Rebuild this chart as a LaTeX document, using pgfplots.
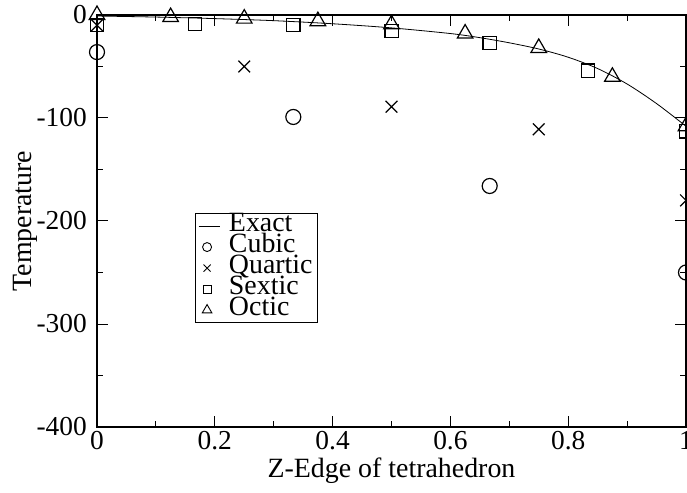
\documentclass[border=0pt]{standalone}
\usepackage{fontspec}
\setmainfont{Liberation Serif}
\usepackage{pgfplots}
\pgfplotsset{compat=1.18}
\begin{document}
\begin{tikzpicture}
\begin{axis}[
    at={(0,0)}, anchor=south west,
    scale only axis,
    width=589bp, height=412bp,
    xmin=0, xmax=1, ymin=-400, ymax=0,
    xtick={0,0.2,0.4,0.6,0.8,1},
    xticklabels={0,0.2,0.4,0.6,0.8,1},
    ytick={-400,-300,-200,-100,0},
    yticklabels={-400,-300,-200,-100,0},
    minor x tick num=1,
    minor y tick num=1,
    tick align=inside,
    major tick length=11bp,
    minor tick length=6bp,
    every tick/.style={black, line width=1bp},
    axis line style={line width=1.2bp},
    tick label style={font=\fontsize{27.5}{28}\selectfont},
    xticklabel style={anchor=base, yshift=-22bp},
    yticklabel style={anchor=east, inner sep=0pt, xshift=-10bp},
    xlabel={Z-Edge of tetrahedron},
    ylabel={Temperature},
    every axis x label/.style={at={(axis description cs:0.5,-0.123)}, anchor=base, font=\fontsize{28}{28}\selectfont},
    every axis y label/.style={at={(axis description cs:-0.122,0.5)}, anchor=center, rotate=90, font=\fontsize{28}{28}\selectfont},
    clip=false,
    legend cell align=left,
    legend style={at={(axis description cs:0.166,0.519)}, anchor=north west,
        draw=black, line width=0.8bp, font=\fontsize{28}{28}\selectfont,
        inner xsep=3bp, inner ysep=2bp, row sep=0bp, column sep=7bp,
        nodes={text height=14bp, text depth=3bp, inner ysep=2bp, inner xsep=2bp}},
    ]
% Exact
\addplot[black, line width=0.8bp, smooth,
    legend image code/.code={\draw[black, line width=0.8bp] (0bp,0bp) -- (21bp,0bp);}]
    coordinates {
    (0,-1) (0.1,-2) (0.2,-3.5) (0.3,-5.5) (0.4,-8.5) (0.5,-12.5)
    (0.6,-18) (0.65,-22) (0.7,-27) (0.75,-33) (0.8,-41) (0.85,-52)
    (0.9,-67) (0.95,-86) (1.0,-108)};
\addlegendentry{Exact}
% Cubic
\addplot[only marks, mark=o, mark size=7.5bp, mark options={black, line width=1.2bp},
    legend image post style={mark size=4.5bp, mark options={line width=0.9bp}}]
    coordinates {(0,-36) (0.3333,-99) (0.6667,-166) (1,-250)};
\addlegendentry{Cubic}
% Quartic
\addplot[only marks, mark=x, mark size=8.3bp, mark options={black, line width=1.2bp},
    legend image post style={mark size=5bp, mark options={line width=0.9bp}}]
    coordinates {(0,-10) (0.25,-50) (0.5,-89) (0.75,-111) (1,-180)};
\addlegendentry{Quartic}
% Sextic
\addplot[only marks, mark=square, mark size=6.6bp, mark options={black, line width=1.2bp},
    legend image post style={mark size=4bp, mark options={line width=0.9bp}}]
    coordinates {(0,-10) (0.1667,-9) (0.3333,-10) (0.5,-15.5) (0.6667,-27) (0.8333,-54) (1,-113)};
\addlegendentry{Sextic}
% Octic
\addplot[only marks, mark=triangle, mark size=9bp, mark options={black, line width=1.2bp},
    legend image post style={mark size=5.5bp, mark options={line width=0.9bp}}]
    coordinates {(0,0) (0.125,-2) (0.25,-3.5) (0.375,-6) (0.5,-9) (0.625,-18) (0.75,-32) (0.875,-60) (1,-108)};
\addlegendentry{Octic}
\end{axis}
\pgfresetboundingbox
\path[use as bounding box] (-97bp,-66bp) rectangle (590bp,427bp);
\end{tikzpicture}
\end{document}
